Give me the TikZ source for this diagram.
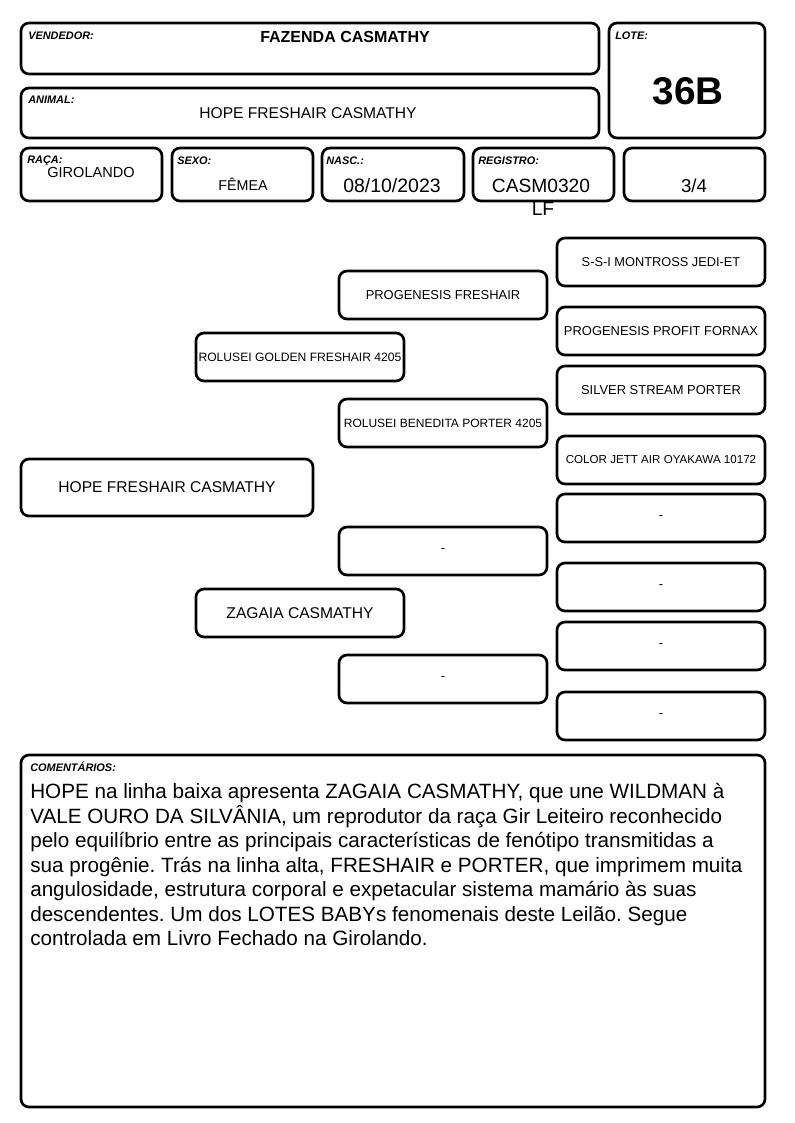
\documentclass[tikz,border=0pt]{standalone}
\usepackage{fontspec}
\setmainfont{Liberation Sans}
\frenchspacing

\begin{document}
\begin{tikzpicture}[x=0.75pt,y=-0.75pt,
    card/.style={draw, line width=2pt, rounded corners=6pt},
    tag/.style={anchor=base west, inner sep=0pt, font=\fontsize{8.2}{9}\selectfont\bfseries\itshape},
    val/.style={inner sep=0pt, font=\fontsize{#1}{#1}\selectfont},
    ped/.style={card, minimum width=156pt, minimum height=36pt, inner sep=1pt}]

  \useasboundingbox (0,0) rectangle (794,1123);

  % header
  \draw[card] (21,23) rectangle (599,74);
  \node[tag] (vendtag) at (28,40) {VENDEDOR:};
  \node[val=12,font=\fontsize{12}{12}\selectfont\bfseries] (vend) at (345,37) {FAZENDA CASMATHY};

  \draw[card] (609,23) rectangle (765,138);
  \node[tag] (lotetag) at (615,40) {LOTE:};
  \node[inner sep=0pt,font=\fontsize{29}{29}\selectfont\bfseries] (lote) at (688,91) {36B};

  \draw[card] (21,88) rectangle (599,138);
  \node[tag] (animtag) at (28,104) {ANIMAL:};
  \node[val=11.7] (anim) at (308,113) {HOPE FRESHAIR CASMATHY};

  % dados
  \draw[card] (21,148) rectangle (162,201);
  \node[tag] (racatag) at (27,164) {RAÇA:};
  \node[val=10.9] (raca) at (91,172) {GIROLANDO};

  \draw[card] (172,148) rectangle (313,201);
  \node[tag] (sexotag) at (177,165) {SEXO:};
  \node[val=10.7] (sexo) at (243,184) {FÊMEA};

  \draw[card] (322,148) rectangle (464,201);
  \node[tag] (nasctag) at (326,165) {NASC.:};
  \node[val=14.6] (nasc) at (392,186) {08/10/2023};

  \draw[card] (473,148) rectangle (614,201);
  \node[tag] (regtag) at (478,165) {REGISTRO:};
  \node[val=14.4] (reg) at (541,186) {CASM0320};
  \node[val=14.4] (regb) at (543,209) {LF};

  \draw[card] (624,148) rectangle (765,201);
  \node[val=14] (grau) at (694,186) {3/4};

  % genealogia
  \node[ped, minimum width=219pt, minimum height=42.75pt, font=\fontsize{11.7}{12}\selectfont] (hope) at (167,487.5) {HOPE FRESHAIR CASMATHY};

  \node[ped, font=\fontsize{9.1}{10}\selectfont] (pai) at (300,357) {ROLUSEI GOLDEN FRESHAIR 4205};
  \node[ped, font=\fontsize{11.7}{12}\selectfont] (mae) at (300,613) {ZAGAIA CASMATHY};

  \node[ped, font=\fontsize{9.7}{10}\selectfont] (avo1) at (443,295) {PROGENESIS FRESHAIR};
  \node[ped, font=\fontsize{9}{10}\selectfont] (avo2) at (443,423) {ROLUSEI BENEDITA PORTER 4205};
  \node[ped, font=\fontsize{9.7}{10}\selectfont] (avo3) at (443,551) {-};
  \node[ped, font=\fontsize{9.7}{10}\selectfont] (avo4) at (443,679) {-};

  \node[ped, font=\fontsize{9.6}{10}\selectfont] (bis1) at (661,262) {S-S-I MONTROSS JEDI-ET};
  \node[ped, font=\fontsize{9.7}{10}\selectfont] (bis2) at (661,331) {PROGENESIS PROFIT FORNAX};
  \node[ped, font=\fontsize{9.7}{10}\selectfont] (bis3) at (661,390) {SILVER STREAM PORTER};
  \node[ped, font=\fontsize{8.7}{10}\selectfont] (bis4) at (661,460) {COLOR JETT AIR OYAKAWA 10172};
  \foreach \i/\y in {5/518,6/587,7/646,8/716}{
    \node[ped, font=\fontsize{9.7}{10}\selectfont] (bis\i) at (661,\y) {-};
  }

  % comentarios
  \draw[card] (21,755) rectangle (765,1107);
  \node[tag] (comtag) at (30,771) {COMENTÁRIOS:};
  \node[anchor=north west, inner sep=0pt, align=left, font=\fontsize{15.5}{18.4}\selectfont] (com) at (30,783)
    {HOPE na linha baixa apresenta ZAGAIA CASMATHY, que une WILDMAN à\\
     VALE OURO DA SILVÂNIA, um reprodutor da raça Gir Leiteiro reconhecido\\
     pelo equilíbrio entre as principais características de fenótipo transmitidas a\\
     sua progênie. Trás na linha alta, FRESHAIR e PORTER, que imprimem muita\\
     angulosidade, estrutura corporal e expetacular sistema mamário às suas\\
     descendentes. Um dos LOTES BABYs fenomenais deste Leilão. Segue\\
     controlada em Livro Fechado na Girolando.};

\end{tikzpicture}
\end{document}
